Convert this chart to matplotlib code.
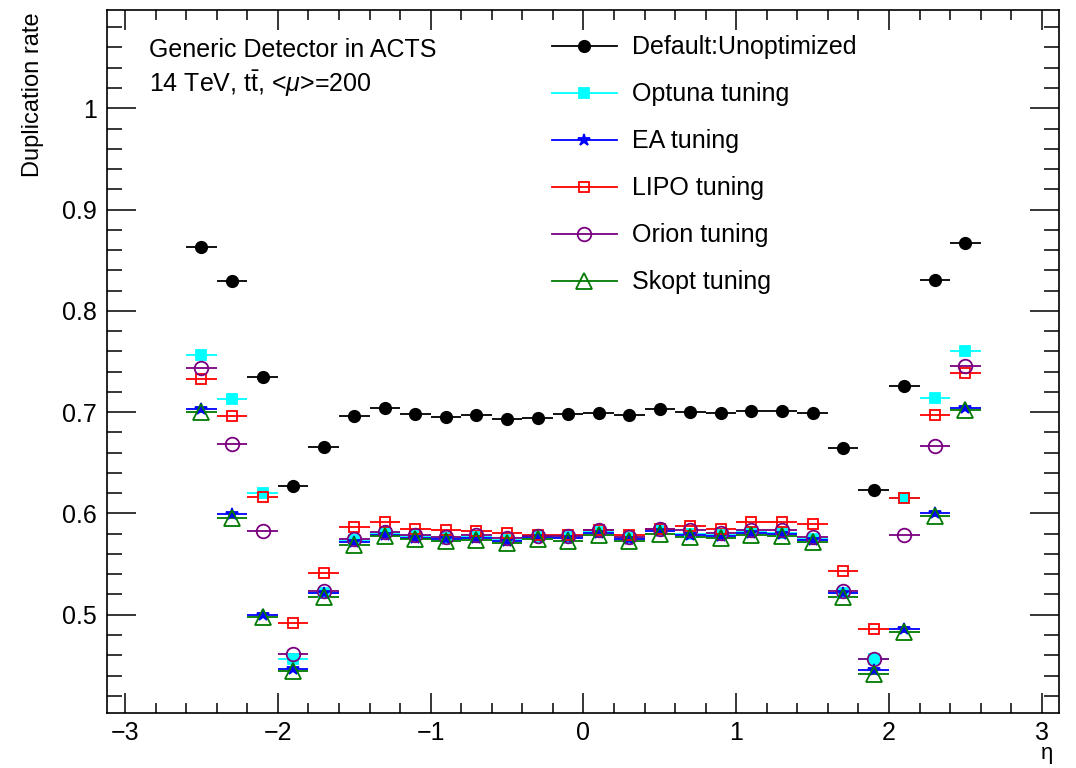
import matplotlib
matplotlib.use("Agg")
import matplotlib.pyplot as plt
from matplotlib.lines import Line2D
from matplotlib.ticker import MultipleLocator, FormatStrFormatter

plt.rcParams['font.family'] = ['Liberation Sans', 'DejaVu Sans']
plt.rcParams['mathtext.fontset'] = 'custom'
plt.rcParams['mathtext.rm'] = 'Liberation Sans'
plt.rcParams['mathtext.it'] = 'Liberation Sans:italic'

# eta bin centres (bin width 0.2)
eta = [-2.5, -2.3, -2.1, -1.9, -1.7, -1.5, -1.3, -1.1, -0.9, -0.7, -0.5, -0.3, -0.1,
       0.1, 0.3, 0.5, 0.7, 0.9, 1.1, 1.3, 1.5, 1.7, 1.9, 2.1, 2.3, 2.5]
half_width = 0.1

default = [0.863, 0.829, 0.735, 0.627, 0.666, 0.696, 0.704, 0.698, 0.695, 0.697, 0.693, 0.694, 0.698,
           0.699, 0.697, 0.703, 0.700, 0.699, 0.701, 0.701, 0.699, 0.665, 0.623, 0.726, 0.830, 0.867]
optuna = [0.756, 0.713, 0.620, 0.456, 0.521, 0.574, 0.581, 0.578, 0.576, 0.577, 0.574, 0.577, 0.577,
          0.582, 0.576, 0.584, 0.580, 0.579, 0.582, 0.581, 0.575, 0.521, 0.456, 0.615, 0.714, 0.760]
ea = [0.703, 0.599, 0.500, 0.446, 0.521, 0.572, 0.579, 0.576, 0.575, 0.576, 0.573, 0.577, 0.576,
      0.581, 0.575, 0.583, 0.579, 0.578, 0.581, 0.580, 0.574, 0.521, 0.445, 0.486, 0.600, 0.704]
lipo = [0.733, 0.696, 0.616, 0.492, 0.541, 0.587, 0.592, 0.585, 0.584, 0.583, 0.581, 0.579, 0.579,
        0.584, 0.579, 0.585, 0.588, 0.585, 0.592, 0.592, 0.590, 0.543, 0.486, 0.615, 0.697, 0.739]
orion = [0.744, 0.669, 0.583, 0.461, 0.523, 0.575, 0.582, 0.579, 0.577, 0.579, 0.576, 0.578, 0.578,
         0.584, 0.577, 0.585, 0.584, 0.581, 0.584, 0.584, 0.577, 0.523, 0.456, 0.579, 0.667, 0.746]
skopt = [0.700, 0.596, 0.498, 0.444, 0.518, 0.569, 0.578, 0.575, 0.573, 0.574, 0.571, 0.575, 0.573,
         0.579, 0.573, 0.580, 0.577, 0.576, 0.579, 0.578, 0.572, 0.518, 0.442, 0.483, 0.597, 0.702]

series = [
    ("Default:Unoptimized", default, "black", "o", 8.2, True),
    ("Optuna tuning", optuna, "#00ffff", "s", 7.6, True),
    ("EA tuning", ea, "#0000ff", "*", 9, True),
    ("LIPO tuning", lipo, "#ff0000", "s", 7.6, False),
    ("Orion tuning", orion, "#7a0080", "o", 9.8, False),
    ("Skopt tuning", skopt, "#007a00", "^", 11, False),
]

fig = plt.figure(figsize=(10.76, 7.68), dpi=100)
ax = fig.add_axes([0.0992, 0.0716, 0.8850, 0.9154])

handles = []
for label, vals, color, marker, ms, filled in series:
    mfc = color if filled else "none"
    ax.errorbar(eta, vals, xerr=half_width, fmt=marker, color=color, ecolor=color,
                elinewidth=1.3, capsize=0, ms=ms, mfc=mfc, mec=color, mew=1.3)
    handles.append(Line2D([], [], color=color, lw=1.3, marker=marker, ms=ms,
                          mfc=mfc, mec=color, mew=1.3, label=label))

ax.set_xlim(-3.12, 3.113)
ax.set_ylim(0.403, 1.097)

ax.xaxis.set_major_locator(MultipleLocator(1))
ax.xaxis.set_minor_locator(MultipleLocator(0.2))
ax.yaxis.set_major_locator(MultipleLocator(0.1))
ax.yaxis.set_minor_locator(MultipleLocator(0.02))
ax.yaxis.set_major_formatter(FormatStrFormatter('%g'))

ax.tick_params(axis='both', which='both', direction='in', top=True, right=True,
               labelsize=18, width=1.1)
ax.tick_params(axis='x', which='major', length=14.4, pad=6)
ax.tick_params(axis='x', which='minor', length=7.2)
ax.tick_params(axis='y', which='major', length=21, pad=7)
ax.tick_params(axis='y', which='minor', length=10.8)
for sp in ax.spines.values():
    sp.set_linewidth(1.2)

ax.set_ylabel("Duplication rate", fontsize=17, loc='top')
ax.yaxis.set_label_coords(-0.0658, 0.996)
ax.set_xlabel("η", fontsize=16, loc='right')
ax.xaxis.set_label_coords(0.994, -0.042)

fig.text(0.1385, 0.9258, "Generic Detector in ACTS", fontsize=18, va='baseline')
fig.text(0.1385, 0.8800, r"14 TeV, $\mathrm{t\bar{t}}$, <$\mu$>=200", fontsize=18, va='baseline')

ax.legend(handles=handles, loc='upper left', bbox_to_anchor=(0.513, 0.954),
          bbox_transform=fig.transFigure, frameon=False, fontsize=18,
          handlelength=2.6, handletextpad=0.6, labelspacing=0.92, borderpad=0,
          borderaxespad=0)

fig.savefig("out.png", dpi=100)
